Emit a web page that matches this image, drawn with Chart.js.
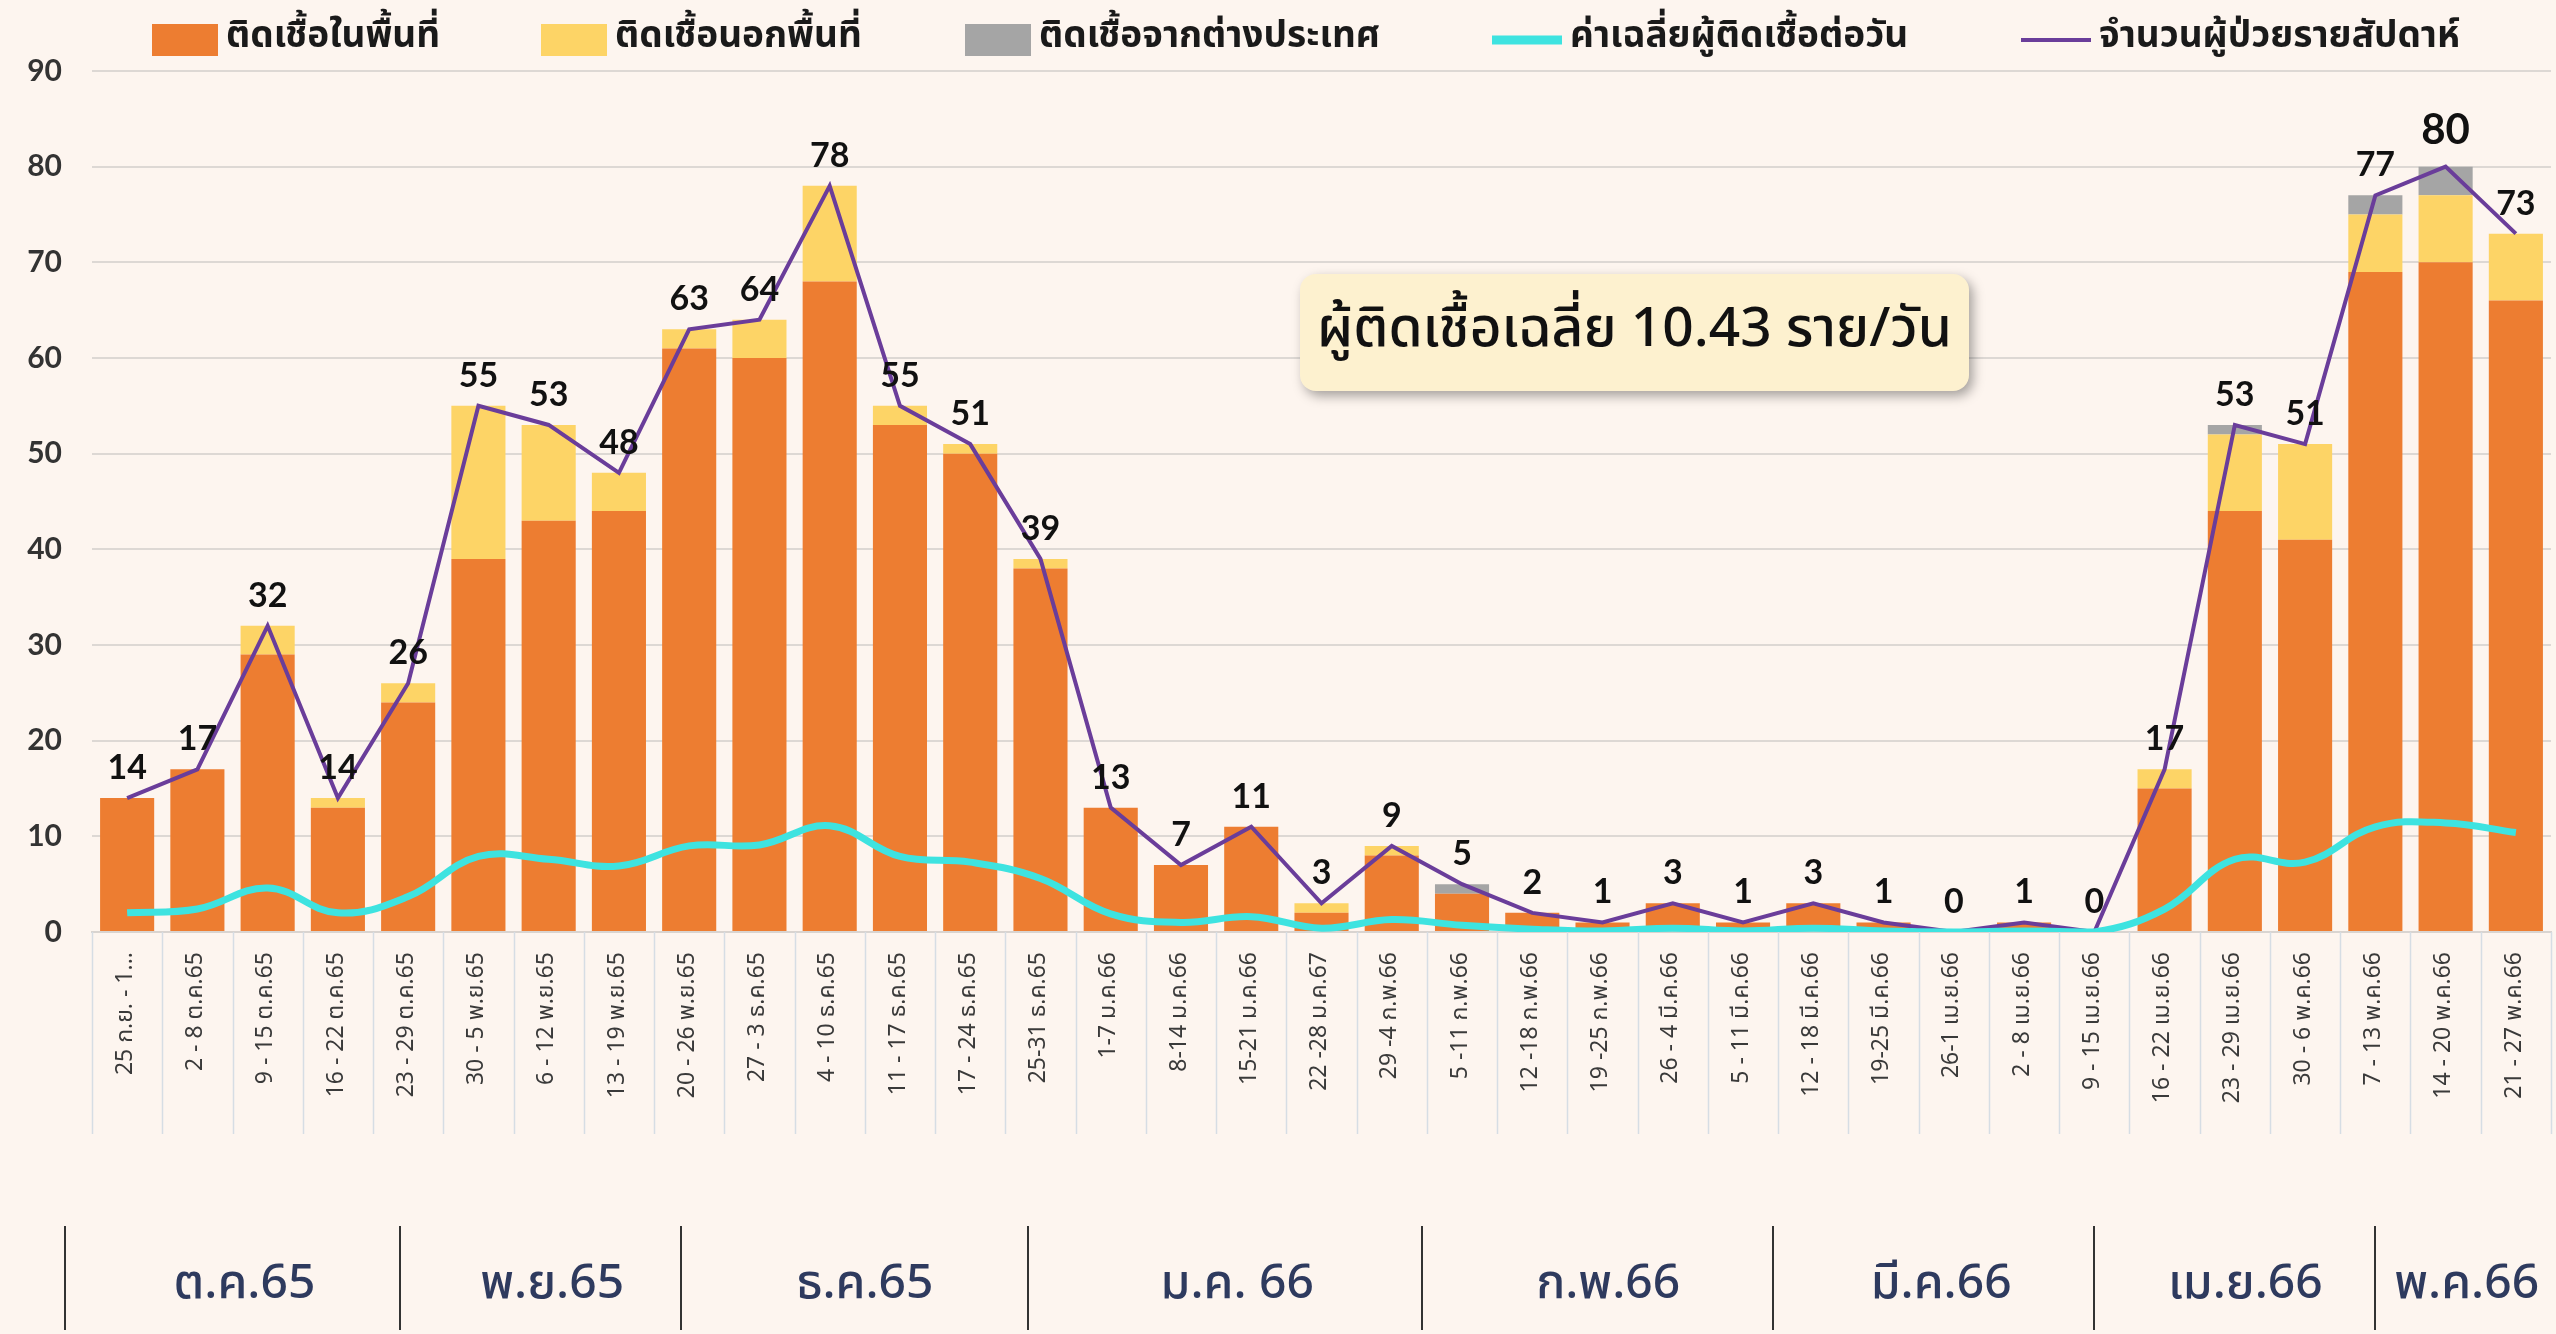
<!DOCTYPE html>
<html lang="th">
<head>
<meta charset="UTF-8">
<title>ผู้ติดเชื้อรายสัปดาห์</title>
<script src="https://cdn.jsdelivr.net/npm/chart.js"></script>
<style>
  html, body { margin: 0; padding: 0; background: #fdf5ef; }
  #wrap { width: 2556px; height: 1334px; }
</style>
</head>
<body>
<div id="wrap"><canvas id="covidChart" width="2556" height="1334"></canvas></div>
<script>
// weekly data
const weeks = [
  '25 ก.ย. - 1...', '2 - 8 ต.ค.65', '9 - 15 ต.ค.65', '16 - 22 ต.ค.65', '23 - 29 ต.ค.65',
  '30 - 5 พ.ย.65', '6 - 12 พ.ย.65', '13 - 19 พ.ย.65', '20 - 26 พ.ย.65', '27 - 3 ธ.ค.65',
  '4 - 10 ธ.ค.65', '11 - 17 ธ.ค.65', '17 - 24 ธ.ค.65', '25-31 ธ.ค.65', '1-7 ม.ค.66',
  '8-14 ม.ค.66', '15-21 ม.ค.66', '22 -28 ม.ค.67', '29 -4 ก.พ.66', '5 -11 ก.พ.66',
  '12 -18 ก.พ.66', '19 -25 ก.พ.66', '26 - 4 มี.ค.66', '5 - 11 มี.ค.66', '12 - 18 มี.ค.66',
  '19-25 มี.ค.66', '26-1 เม.ย.66', '2 - 8 เม.ย.66', '9 - 15 เม.ย.66', '16 - 22 เม.ย.66',
  '23 - 29 เม.ย.66', '30 - 6 พ.ค.66', '7 - 13 พ.ค.66', '14 - 20 พ.ค.66', '21 - 27 พ.ค.66'
];
const localCases   = [14, 17, 29, 13, 24, 39, 43, 44, 61, 60, 68, 53, 50, 38, 13, 7, 11, 2, 8, 4, 2, 1, 3, 1, 3, 1, 0, 1, 0, 15, 44, 41, 69, 70, 66];
const outsideCases = [0, 0, 3, 1, 2, 16, 10, 4, 2, 4, 10, 2, 1, 1, 0, 0, 0, 1, 1, 0, 0, 0, 0, 0, 0, 0, 0, 0, 0, 2, 8, 10, 6, 7, 7];
const foreignCases = [0, 0, 0, 0, 0, 0, 0, 0, 0, 0, 0, 0, 0, 0, 0, 0, 0, 0, 0, 1, 0, 0, 0, 0, 0, 0, 0, 0, 0, 0, 1, 0, 2, 3, 0];
const dailyAverage = [2.0, 2.4, 4.6, 2.0, 3.7, 7.9, 7.6, 6.9, 9.0, 9.1, 11.1, 7.9, 7.3, 5.6, 1.9, 1.0, 1.6, 0.4, 1.3, 0.7,
                      0.3, 0.1, 0.4, 0.1, 0.4, 0.1, 0.0, 0.1, 0.0, 2.4, 7.6, 7.3, 11.0, 11.4, 10.4];
const weeklyTotal  = [14, 17, 32, 14, 26, 55, 53, 48, 63, 64, 78, 55, 51, 39, 13, 7, 11, 3, 9, 5, 2, 1, 3, 1, 3, 1, 0, 1, 0, 17, 53, 51, 77, 80, 73];
const months = ['ต.ค.65', 'พ.ย.65', 'ธ.ค.65', 'ม.ค. 66', 'ก.พ.66', 'มี.ค.66', 'เม.ย.66', 'พ.ค.66'];
const seriesNames = ['ติดเชื้อในพื้นที่', 'ติดเชื้อนอกพื้นที่', 'ติดเชื้อจากต่างประเทศ', 'ค่าเฉลี่ยผู้ติดเชื้อต่อวัน', 'จำนวนผู้ป่วยรายสัปดาห์'];
const boxNote = 'ผู้ติดเชื้อเฉลี่ย 10.43 ราย/วัน';

const thaiFont = "'Noto Sans Thai', 'Noto Sans', 'DejaVu Sans', sans-serif";

// legend across the top
const topLegend = {
  id: 'topLegend',
  afterDraw(chart) {
    const ctx = chart.ctx;
    const starts = [152, 541, 965, 1492, 2021];
    ctx.save();
    ctx.font = 'bold 37px ' + thaiFont;
    ctx.textBaseline = 'middle';
    chart.data.datasets.forEach((ds, i) => {
      const x = starts[i], y = 40;
      if (ds.type === 'line') {
        ctx.strokeStyle = ds.borderColor;
        ctx.lineWidth = ds.legendWidth;
        ctx.beginPath();
        ctx.moveTo(x, y);
        ctx.lineTo(x + 70, y);
        ctx.stroke();
      } else {
        ctx.fillStyle = ds.backgroundColor;
        ctx.fillRect(x, y - 16, 66, 32);
      }
      ctx.fillStyle = '#1a1a1a';
      ctx.fillText(ds.label, x + (ds.type === 'line' ? 78 : 74), y);
    });
    ctx.restore();
  }
};

// separators under the x axis, the month row and the note box
const extras = {
  id: 'extras',
  afterDraw(chart) {
    const ctx = chart.ctx;
    const xs = chart.scales.x;
    const area = chart.chartArea;
    ctx.save();
    ctx.strokeStyle = '#d6dde4';
    ctx.lineWidth = 1.5;
    for (let i = 0; i <= weeks.length; i++) {
      const x = Math.round(xs.getPixelForValue(i - 0.5)) + 0.5;
      ctx.beginPath();
      ctx.moveTo(x, area.bottom);
      ctx.lineTo(x, area.bottom + 202);
      ctx.stroke();
    }

    // month row
    const seps = [-0.88, 3.89, 7.89, 12.82, 18.43, 23.43, 28.0, 32.0];
    const centers = [1.67, 6.05, 10.5, 15.8, 21.08, 25.82, 30.15, 33.3];
    ctx.strokeStyle = '#333';
    ctx.lineWidth = 2;
    seps.forEach(s => {
      const x = Math.round(xs.getPixelForValue(s));
      ctx.beginPath();
      ctx.moveTo(x, 1226);
      ctx.lineTo(x, 1330);
      ctx.stroke();
    });
    ctx.fillStyle = '#2e3a5e';
    ctx.font = '500 48px ' + thaiFont;
    ctx.textAlign = 'center';
    ctx.textBaseline = 'middle';
    months.forEach((m, i) => {
      ctx.fillText(m, xs.getPixelForValue(centers[i]), 1288);
    });

    // note box
    const bx = 1300, by = 274, bw = 669, bh = 117, r = 16;
    ctx.shadowColor = 'rgba(0,0,0,0.35)';
    ctx.shadowBlur = 12;
    ctx.shadowOffsetX = 4;
    ctx.shadowOffsetY = 5;
    ctx.fillStyle = '#fdf1cf';
    ctx.beginPath();
    ctx.roundRect(bx, by, bw, bh, r);
    ctx.fill();
    ctx.shadowColor = 'transparent';
    ctx.fillStyle = '#111';
    ctx.font = '500 55px ' + thaiFont;
    ctx.fillText(boxNote, bx + bw / 2, by + bh / 2 + 2);
    ctx.restore();
  }
};

// value labels above the weekly line
const lineLabels = {
  id: 'lineLabels',
  afterDatasetsDraw(chart) {
    const ctx = chart.ctx;
    const meta = chart.getDatasetMeta(4);
    const top = Math.max(...weeklyTotal);
    ctx.save();
    ctx.fillStyle = '#111';
    ctx.textAlign = 'center';
    ctx.textBaseline = 'middle';
    meta.data.forEach((pt, i) => {
      const v = weeklyTotal[i];
      ctx.font = (v === top ? 'bold 42px ' : 'bold 34px ') + 'Lato, sans-serif';
      ctx.fillText(String(v), pt.x, pt.y - (v === top ? 36 : 30));
    });
    ctx.restore();
  }
};

new Chart(document.getElementById('covidChart'), {
  type: 'bar',
  data: {
    labels: weeks,
    datasets: [
      { label: seriesNames[0], data: localCases, backgroundColor: '#ed7d31', order: 1, stack: 'cases',
        barPercentage: 0.77, categoryPercentage: 1.0 },
      { label: seriesNames[1], data: outsideCases, backgroundColor: '#fdd466', order: 1, stack: 'cases',
        barPercentage: 0.77, categoryPercentage: 1.0 },
      { label: seriesNames[2], data: foreignCases, backgroundColor: '#a5a5a5', order: 1, stack: 'cases',
        barPercentage: 0.77, categoryPercentage: 1.0 },
      { type: 'line', label: seriesNames[3], data: dailyAverage, borderColor: '#3ee3e0', borderWidth: 7,
        tension: 0.4, pointRadius: 0, order: 0, stack: 'avg', legendWidth: 9 },
      { type: 'line', label: seriesNames[4], data: weeklyTotal, borderColor: '#6a3d9a', borderWidth: 4,
        tension: 0, pointRadius: 0, order: 0, stack: 'week', legendWidth: 4 }
    ]
  },
  options: {
    responsive: false,
    animation: false,
    devicePixelRatio: 1,
    layout: { padding: { top: 71, right: 5, left: 0, bottom: 0 } },
    plugins: {
      legend: { display: false },
      tooltip: { enabled: false }
    },
    scales: {
      x: {
        stacked: true,
        grid: { display: false },
        border: { color: '#d9d4d0', width: 2 },
        ticks: {
          minRotation: 90, maxRotation: 90, autoSkip: false, padding: 12,
          color: '#3a3a3a', font: { family: thaiFont, size: 23 }
        },
        afterFit(s) { s.height = 402; }
      },
      y: {
        stacked: true,
        min: 0, max: 90,
        grid: { color: '#ddd8d4', lineWidth: 2, drawTicks: false },
        border: { display: false },
        ticks: {
          stepSize: 10, padding: 30, color: '#333',
          font: { family: 'Lato, sans-serif', size: 30, weight: 'bold' }
        },
        afterFit(s) { s.width = 92; }
      }
    }
  },
  plugins: [topLegend, extras, lineLabels]
});
</script>
</body>
</html>
